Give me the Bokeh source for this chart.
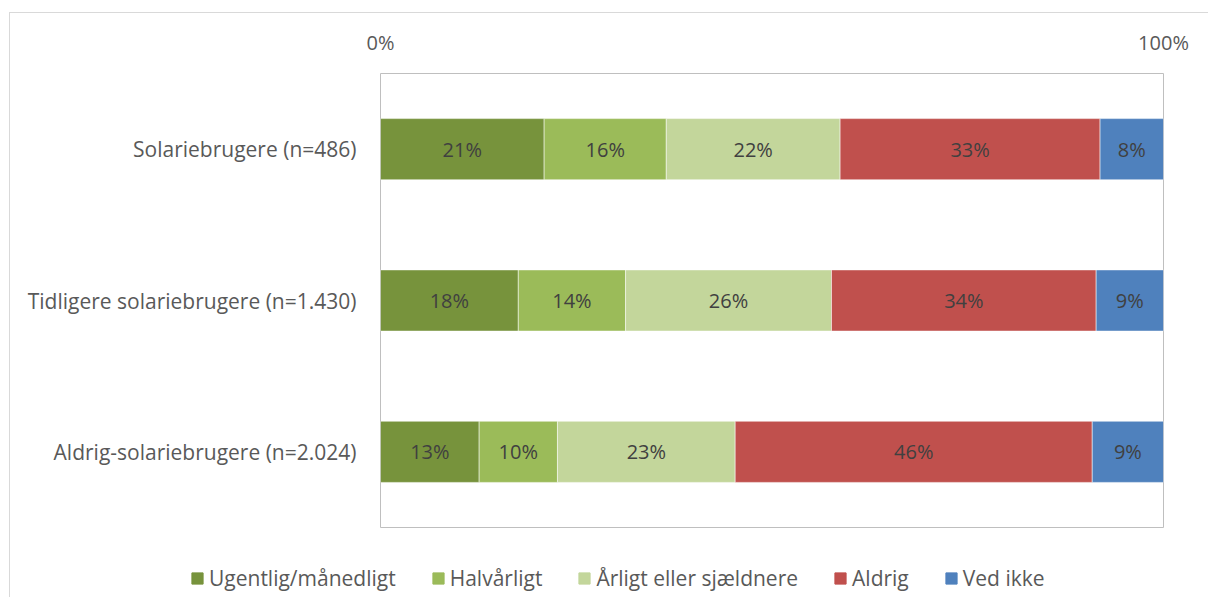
from bokeh.plotting import figure
from bokeh.models import ColumnDataSource, FactorRange, FixedTicker, LabelSet, Legend, LegendItem, Range1d
from bokeh.core.properties import value
from bokeh.embed import file_html
from bokeh.resources import INLINE

categories = ["Solariebrugere (n=486)", "Tidligere solariebrugere (n=1.430)", "Aldrig-solariebrugere (n=2.024)"]
series = ["Ugentlig/månedligt", "Halvårligt", "Årligt eller sjældnere", "Aldrig", "Ved ikke"]
ugentlig = [20.9, 17.6, 12.6]
halvaarligt = [15.6, 13.7, 10.0]
aarligt = [22.2, 26.3, 22.7]
aldrig = [33.2, 33.8, 45.6]
ved_ikke = [8.1, 8.6, 9.1]
colors = ["#77933C", "#9BBB59", "#C3D69B", "#C0504D", "#4F81BD"]
x_ticks = [0, 100]
x_tick_labels = ["0%", "100%"]

FONT = "Open Sans"
values = [ugentlig, halvaarligt, aarligt, aldrig, ved_ikke]
keys = ["s0", "s1", "s2", "s3", "s4"]

data = {"cat": categories}
for k, v in zip(keys, values):
    data[k] = v
source = ColumnDataSource(data)

p = figure(frame_width=783, frame_height=454,
           y_range=FactorRange(*reversed(categories), range_padding=0),
           x_range=Range1d(0, 100), output_backend="svg", toolbar_location=None,
           x_axis_location="above", min_border_left=370, min_border_top=60,
           min_border_right=46, min_border_bottom=10)
p.styles = {"border-left": "1px solid #d9d9d9", "border-top": "1px solid #d9d9d9",
            "margin-top": "12px", "margin-left": "9px"}

renderers = p.hbar_stack(keys, y="cat", height=0.404, color=colors, source=source,
                         line_color="white", line_width=1, line_alpha=0.5)

# data labels
for i, k in enumerate(keys):
    left = [sum(values[j][r] for j in range(i)) for r in range(len(categories))]
    mid = [l + values[i][r] / 2 for r, l in enumerate(left)]
    txt = [f"{round(values[i][r]):d}%" for r in range(len(categories))]
    ls = ColumnDataSource(dict(x=mid, y=categories, t=txt))
    p.add_layout(LabelSet(x="x", y="y", text="t", source=ls, text_align="center",
                          text_baseline="middle", text_font=value(FONT), text_font_size="20px",
                          text_color="#404040"))

p.xgrid.visible = False
p.ygrid.visible = False
p.outline_line_color = "#bfbfbf"
p.outline_line_width = 1

xa = p.xaxis[0]
xa.ticker = FixedTicker(ticks=x_ticks)
xa.major_label_overrides = {t: l for t, l in zip(x_ticks, x_tick_labels)}
xa.axis_line_color = None
xa.major_tick_line_color = None
xa.minor_tick_line_color = None
xa.major_label_text_font = FONT
xa.major_label_text_font_size = "20px"
xa.major_label_text_color = "#595959"
xa.major_label_standoff = 12

ya = p.yaxis[0]
ya.axis_line_color = None
ya.major_tick_line_color = None
ya.minor_tick_line_color = None
ya.major_label_text_font = FONT
ya.major_label_text_font_size = "21px"
ya.major_label_text_color = "#595959"
ya.major_label_standoff = 18

# legend strip below the chart (same series, hidden bars; only the legend shows)
lg = figure(width=1199, height=60, x_range=Range1d(0, 100),
            y_range=FactorRange(*reversed(categories), range_padding=0),
            x_axis_type=None, y_axis_type=None, output_backend="svg", toolbar_location=None,
            min_border=0)
lg.styles = {"border-left": "1px solid #d9d9d9", "margin-left": "9px"}
lg.xgrid.visible = False
lg.ygrid.visible = False
lg.outline_line_color = None
swatches = lg.hbar_stack(keys, y="cat", height=0.404, color=colors, source=source)
for r in swatches:
    r.visible = False
legend = Legend(items=[LegendItem(label=s, renderers=[r]) for s, r in zip(series, swatches)],
                orientation="horizontal", location=(180, 5), border_line_color=None,
                background_fill_alpha=0, label_text_font=FONT, label_text_font_size="21px",
                label_text_color="#595959", glyph_width=14, glyph_height=14, spacing=35,
                label_standoff=5, padding=0, margin=0, click_policy="none",
                inactive_fill_alpha=0)
lg.add_layout(legend, "center")

open("out.html", "w").write(file_html([p, lg], INLINE))
